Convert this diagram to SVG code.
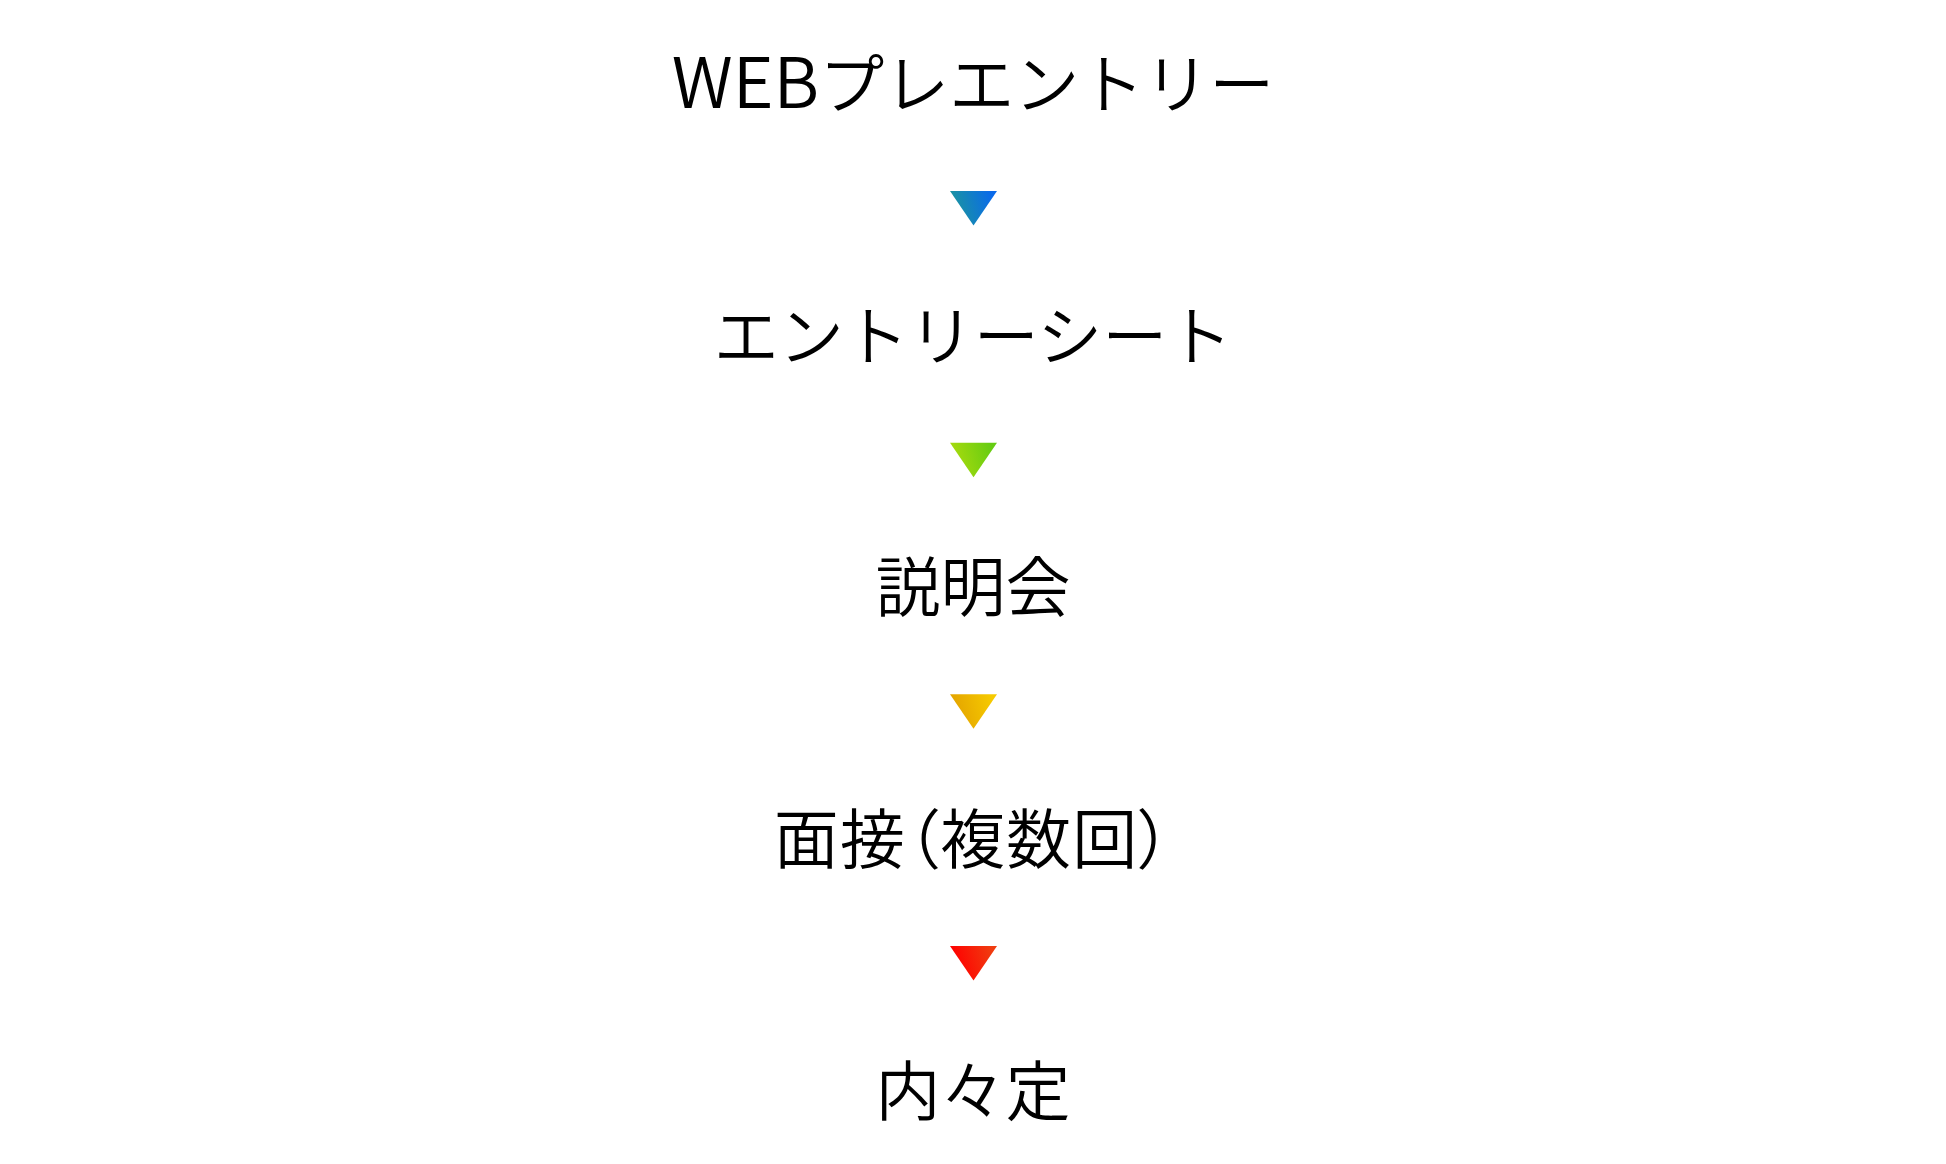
<svg xmlns="http://www.w3.org/2000/svg" width="1946" height="1164" viewBox="0 0 1946 1164">
<style>
.lbl{font-family:"Noto Sans CJK JP","Noto Sans",sans-serif;font-size:65px;font-weight:350;fill:#000;text-anchor:middle;}
.p{font-feature-settings:"palt";letter-spacing:1.2px;}
.lat{font-size:70px;}
</style>
<defs>
<linearGradient id="g1" x1="0" y1="0.6" x2="1" y2="0.4"><stop offset="0.1" stop-color="#1a93a2"/><stop offset="0.95" stop-color="#0a6aea"/></linearGradient>
<linearGradient id="g2" x1="0" y1="0.6" x2="1" y2="0.4"><stop offset="0.1" stop-color="#a6da0e"/><stop offset="0.95" stop-color="#66cc12"/></linearGradient>
<linearGradient id="g3" x1="0" y1="0.6" x2="1" y2="0.4"><stop offset="0.1" stop-color="#e4a400"/><stop offset="0.95" stop-color="#f6ca00"/></linearGradient>
<linearGradient id="g4" x1="0" y1="0.6" x2="1" y2="0.4"><stop offset="0.1" stop-color="#ff0000"/><stop offset="0.95" stop-color="#f03c10"/></linearGradient>
</defs>
<rect width="1946" height="1164" fill="#fff"/>
<g id="node-web-entry"><text class="lbl" x="973" y="108"><tspan class="lat">WEB</tspan>プレエントリー</text></g>
<g id="node-entry-sheet"><text class="lbl" x="973" y="360">エントリーシート</text></g>
<g id="node-setsumeikai"><text class="lbl" x="973" y="611">説明会</text></g>
<g id="node-mensetsu"><text class="lbl p" x="973" y="863">面接（複数回）</text></g>
<g id="node-naitei"><text class="lbl" x="973" y="1115">内々定</text></g>
<g id="connectors">
<polygon points="950,191 997,191 973.5,225.5" fill="url(#g1)"/>
<polygon points="950,442.7 997,442.7 973.5,477.2" fill="url(#g2)"/>
<polygon points="950,694.3 997,694.3 973.5,728.8" fill="url(#g3)"/>
<polygon points="950,945.9 997,945.9 973.5,980.4" fill="url(#g4)"/>
</g>
</svg>
